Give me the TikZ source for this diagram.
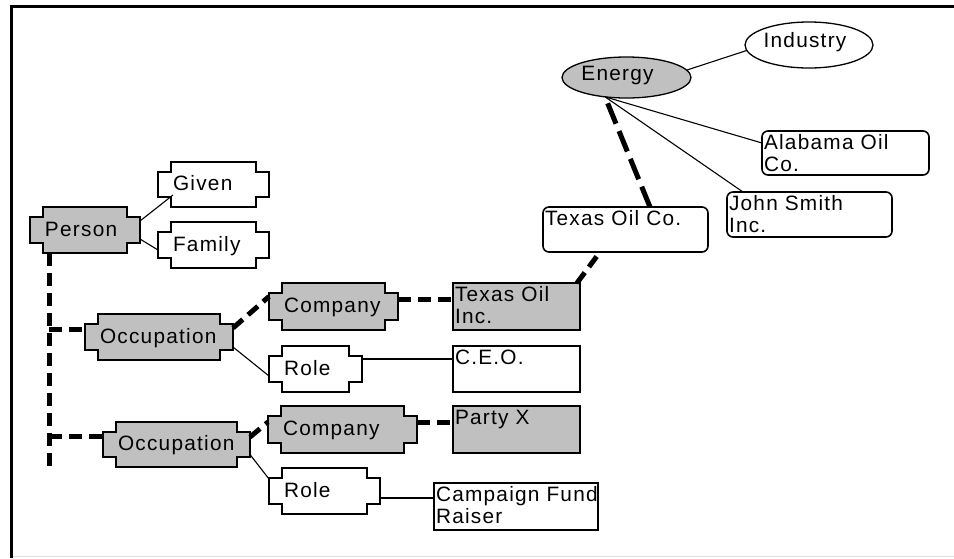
\documentclass[tikz,border=0pt]{standalone}
\usepackage{fontspec}
\setmainfont{Liberation Sans}[LetterSpace=6]
\usetikzlibrary{calc,shapes.geometric}
\definecolor{silver}{RGB}{192,192,192}
\pgfdeclarelayer{background}
\pgfsetlayers{background,main}

% text set at the top left of a box of fixed size
\newcommand\rtext[3]{\parbox[c][#2][t]{#1}{\raggedright\strut #3}}
% outline of a box with stepped (notched) corners, drawn round a named node
\newcommand\notched[2]{%
  \draw[line width=1.6pt, fill=#2, line join=miter]
    ($(#1.north west)+(13,0)$) -- ($(#1.north east)+(-13,0)$)
    -- ($(#1.north east)+(-13,10)$) -- ($(#1.north east)+(0,10)$)
    -- ($(#1.south east)+(0,-10)$) -- ($(#1.south east)+(-13,-10)$)
    -- ($(#1.south east)+(-13,0)$) -- ($(#1.south west)+(13,0)$)
    -- ($(#1.south west)+(13,-10)$) -- ($(#1.south west)+(0,-10)$)
    -- ($(#1.north west)+(0,10)$) -- ($(#1.north west)+(13,10)$) -- cycle;}

\begin{document}
\begin{tikzpicture}[x=1pt,y=-1pt,
  every node/.style={font=\fontsize{20.8}{22}\selectfont, outer sep=0pt},
  tabnode/.style={rectangle, inner xsep=15pt, inner ysep=0pt, align=left,
    minimum height=46pt, text height=15pt, text depth=3pt},
  plainbox/.style={rectangle, draw, line width=1.6pt, inner xsep=2pt,
    inner ysep=3pt, anchor=north west},
  roundbox/.style={plainbox, rounded corners=6pt},
  oval/.style={ellipse, draw, line width=1.3pt, inner sep=0pt,
    text height=15pt, text depth=10pt},
  heavy/.style={line width=5pt, dash pattern=on 13pt off 7pt},
  light/.style={line width=1.1pt},
]
\useasboundingbox (0,0) rectangle (954,558);

% person and its parts
\node[tabnode, text width=80pt] (person) at (85,230) {Person};
\node[tabnode, text width=81pt, minimum height=45pt] (given) at (213.5,184.5) {Given};
\node[tabnode, text width=81pt] (family) at (213.5,245) {Family};

% occupations
\node[tabnode, text width=118pt] (occ1) at (159,337) {Occupation};
\node[tabnode, text width=117pt, minimum height=45pt] (occ2) at (176.5,444.5) {Occupation};
\node[tabnode, text width=99pt, minimum height=47pt] (comp1) at (333.5,306.5) {Company};
\node[tabnode, text width=63pt] (role1) at (315.5,369) {Role};
\node[tabnode, text width=119pt, minimum height=47pt] (comp2) at (342.5,429.5) {Company};
\node[tabnode, text width=81pt] (role2) at (324.5,491) {Role};

% values
\node[plainbox, fill=silver] (txi) at (453,283) {\rtext{123pt}{41pt}{Texas Oil\\Inc.}};
\node[plainbox] (ceo) at (453,346) {\rtext{123pt}{40pt}{C.E.O.}};
\node[plainbox, fill=silver] (party) at (453,406) {\rtext{123pt}{41pt}{Party X}};
\node[plainbox] (fund) at (434,483) {\rtext{160pt}{41pt}{\mbox{Campaign Fund}\\Raiser}};

% energy industry
\node[roundbox] (txco) at (543,207) {\rtext{161pt}{39pt}{Texas Oil Co.}};
\node[roundbox] (alab) at (762,131) {\rtext{163pt}{38pt}{Alabama Oil\\Co.}};
\node[roundbox] (john) at (727,192) {\rtext{161pt}{39pt}{John Smith\\Inc.}};
\node[oval, fill=silver, minimum width=129pt, minimum height=41pt] (energy)
  at (626.5,77.5) {\hspace*{-18pt}Energy};
\node[oval, minimum width=128pt, minimum height=46pt] (industry)
  at (809,45) {\hspace*{-8pt}Industry};

\begin{pgfonlayer}{background}
  \fill[white] (0,0) rectangle (954,558);
  \notched{person}{silver}
  \notched{given}{white}
  \notched{family}{white}
  \notched{occ1}{silver}
  \notched{occ2}{silver}
  \notched{comp1}{silver}
  \notched{comp2}{silver}
  \notched{role1}{white}
  \notched{role2}{white}
\end{pgfonlayer}

% frame
\draw[line width=3pt] (10,6) -- (954,6);
\draw[line width=3pt] (11.5,4.5) -- (11.5,558);
\draw[gray!25, line width=1pt] (13,556) -- (954,556);

% heavy dashed links
\coordinate (t0) at ($(person.south west)+(19,0)$);
\coordinate (t1) at ($(person.south west)+(19,215)$);
\draw[heavy] (t0) -- (t1);
\coordinate (o1in) at ($(occ1.west)+(0,-8)$);
\draw[heavy] (t0 |- o1in) -- (o1in);
\coordinate (o2in) at ($(occ2.west)+(0,-8)$);
\draw[heavy] (t0 |- o2in) -- (o2in);
\draw[heavy] ($(occ1.east)+(0,-9)$) -- ($(comp1.west)+(0,-10)$);
\coordinate (c1out) at ($(comp1.east)+(0,-7)$);
\draw[heavy] (c1out) -- (c1out -| txi.west);
\draw[heavy] ($(txi.north east)+(-3,0)$) -- ($(txco.south west)+(57,0)$);
\draw[heavy, dash pattern=on 22pt off 8pt] ($(txco.north west)+(107,0)$) -- (energy.222);
\draw[heavy] ($(occ2.east)+(0,-7.5)$) -- ($(comp2.west)+(0,-7.5)$);
\coordinate (c2out) at ($(comp2.east)+(0,-7.5)$);
\draw[heavy] (c2out) -- (c2out -| party.west);

% thin links
\draw[light] ($(person.east)+(0,-9)$) -- ($(given.south west)+(15,-12)$);
\draw[light] ($(person.east)+(0,9)$) -- ($(family.west)+(0,5)$);
\draw[light] ($(occ1.east)+(0,10)$) -- ($(role1.west)+(0,7)$);
\coordinate (r1out) at ($(role1.east)+(0,-10)$);
\draw[light] (r1out) -- (r1out -| ceo.west);
\draw[light] ($(occ2.east)+(0,10)$) -- ($(role2.west)+(0,-12)$);
\coordinate (r2out) at ($(role2.east)+(0,7)$);
\draw[light] (r2out) -- (r2out -| fund.west);
\draw[light] (energy.7) -- (industry.185);
\draw[light] (energy.222) -- ($(alab.west)+(0,-10)$);
\draw[light] (energy.222) -- ($(john.north west)+(16,0)$);
\end{tikzpicture}
\end{document}
